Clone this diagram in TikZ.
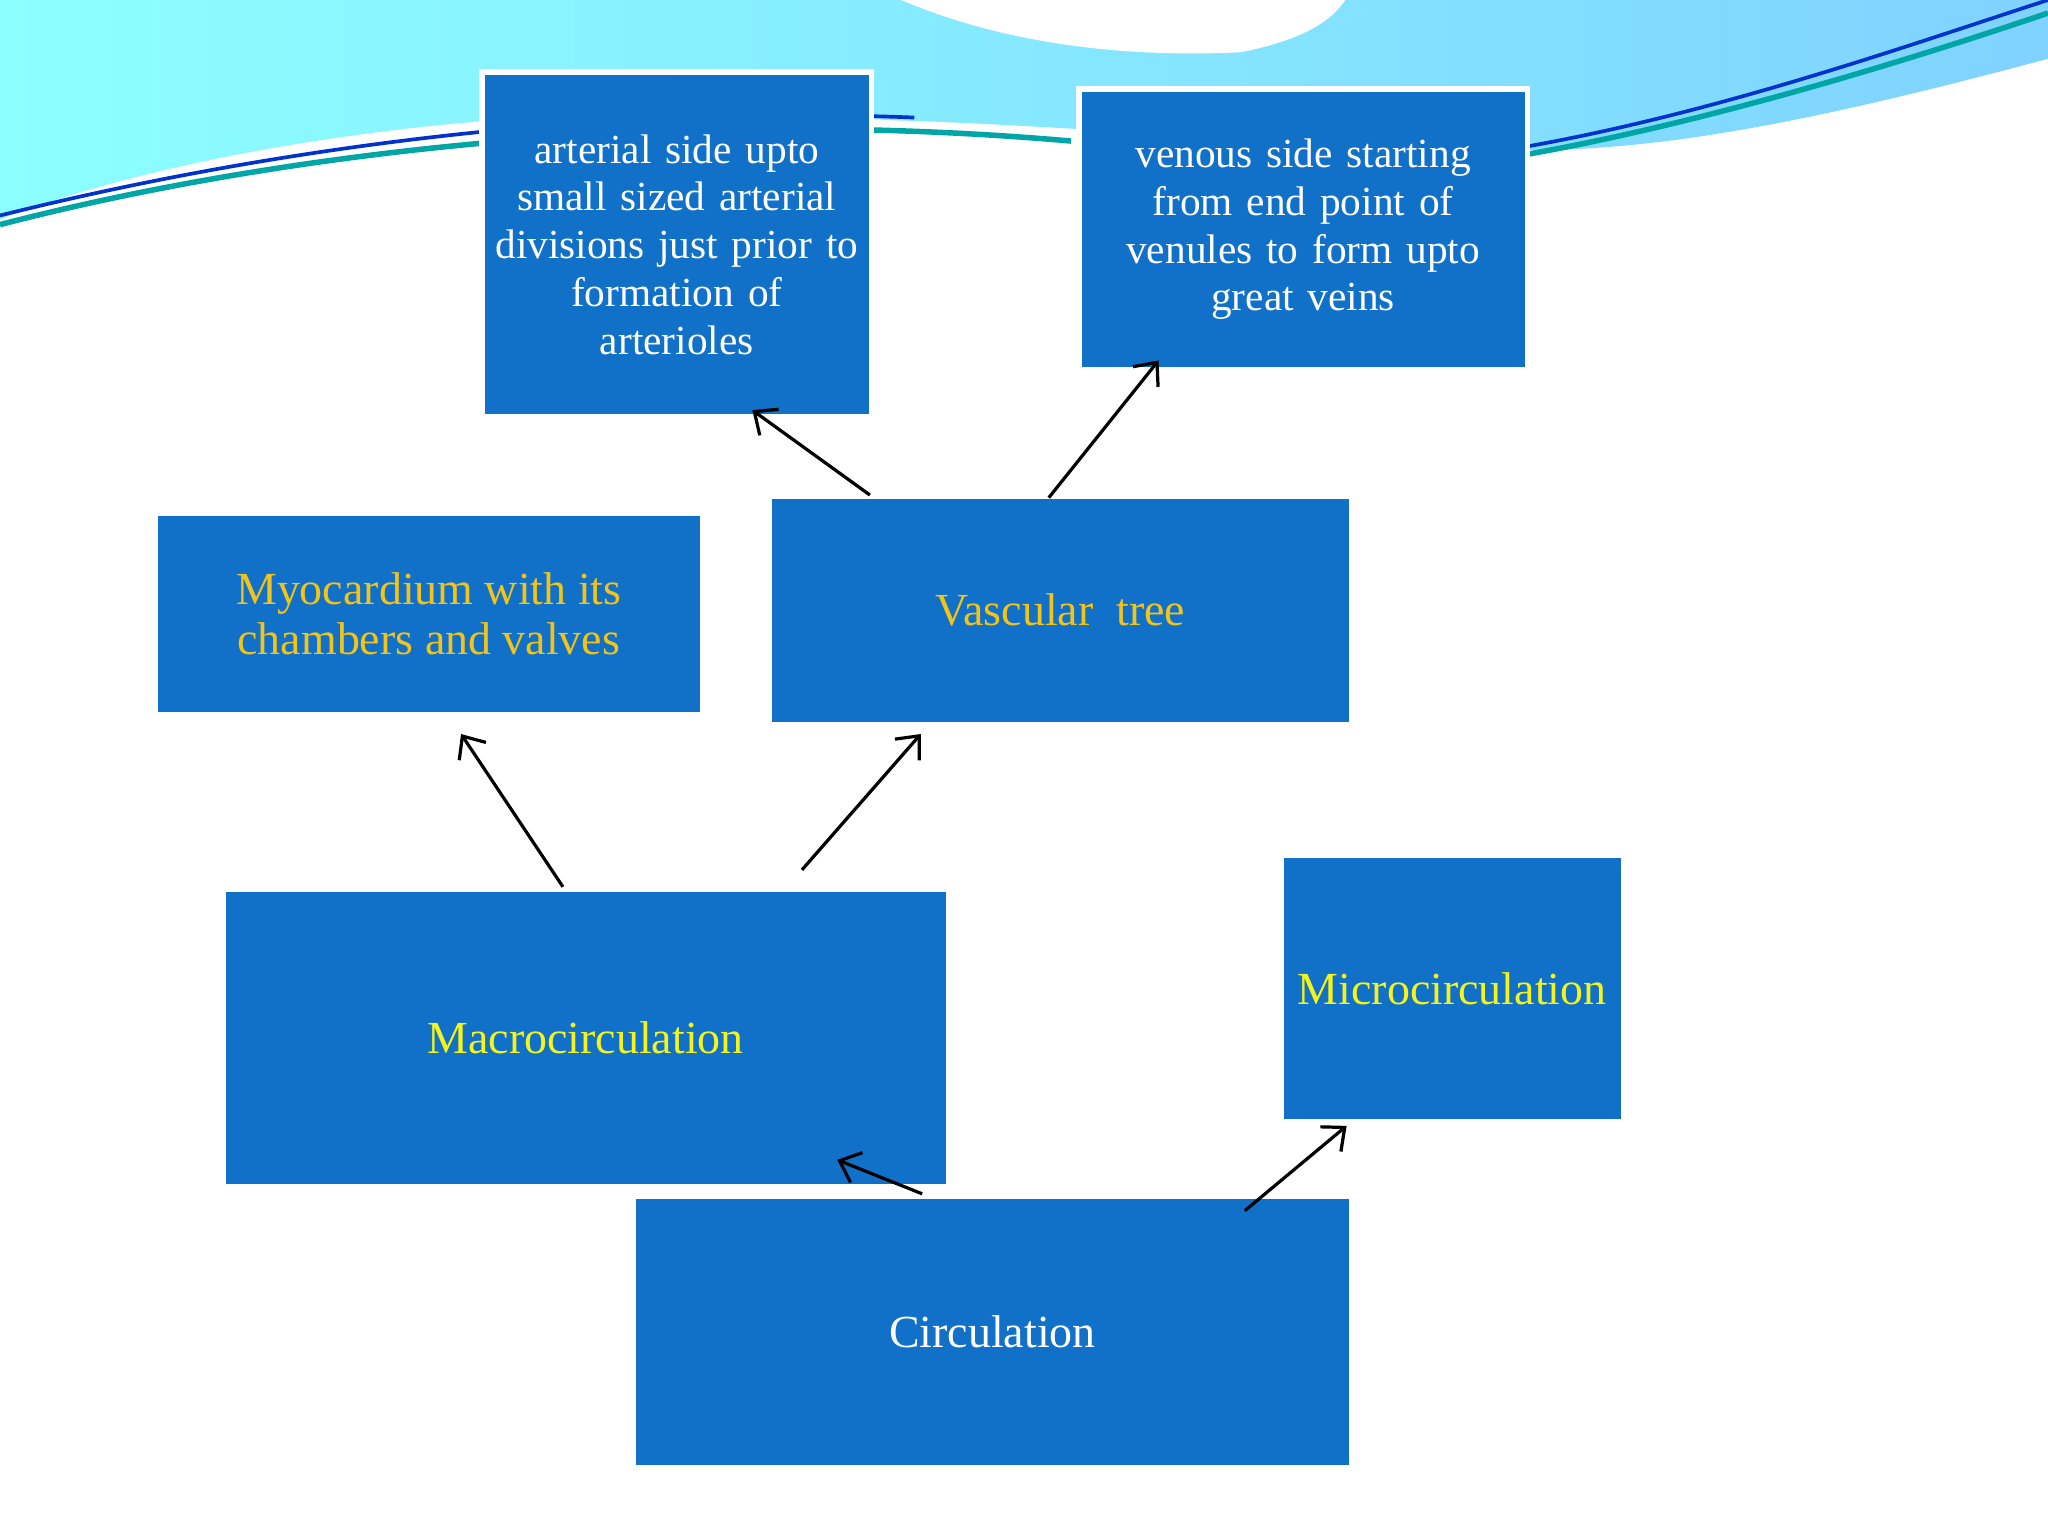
\documentclass[tikz,border=0pt]{standalone}
\usepackage{fontspec}
\setmainfont{Liberation Serif}
\usetikzlibrary{arrows.meta}
\definecolor{boxblue}{HTML}{1170C8}
\definecolor{gold}{HTML}{F2C318}
\definecolor{lemon}{HTML}{F4F41C}
\begin{document}
\begin{tikzpicture}[x=0.01cm,y=-0.01cm,
  box/.style={fill=boxblue,inner sep=0pt,align=center,anchor=north west},
  wbox/.style={box,draw=white,line width=1.2pt},
  arr/.style={-{Straight Barb[length=4pt,width=7pt]},line width=0.7pt}]
\useasboundingbox (0,0) rectangle (1568,1176);
\fill[white] (0,0) rectangle (1568,1176);
% background waves
\shade[left color=cyan!45!white,right color=blue!35!cyan!50!white]
  (0,0) -- (1568,0) -- (1568,45) .. controls (1400,90) and (1280,115) .. (1170,115)
  .. controls (1000,112) and (800,95) .. (680,92)
  .. controls (420,70) and (150,110) .. (0,168) -- cycle;
\fill[white] (690,0) .. controls (760,30) and (850,45) .. (950,40)
  .. controls (1000,30) and (1020,15) .. (1030,0) -- cycle;
\draw[teal!70!cyan,line width=1.2pt] (0,172) .. controls (200,120) and (500,80) .. (820,108);
\draw[blue!60!teal,line width=0.8pt] (0,165) .. controls (200,115) and (450,80) .. (700,90);
\draw[teal!70!cyan,line width=1.2pt] (1170,118) .. controls (1300,95) and (1450,50) .. (1568,10);
\draw[blue!60!teal,line width=0.8pt] (1170,112) .. controls (1320,85) and (1460,35) .. (1568,0);
% boxes
\node[wbox,minimum width=2.98cm,minimum height=2.64cm,text width=2.8cm,text=white,font=\fontsize{9}{10.4}\selectfont] (art) at (367,53) {arterial side upto\\small sized arterial\\divisions just prior to\\formation of\\arterioles};
\node[wbox,minimum width=3.43cm,minimum height=2.15cm,text width=3.2cm,text=white,font=\fontsize{9}{10.4}\selectfont] (ven) at (824,66) {venous side starting\\from end point of\\venules to form upto\\great veins};
\node[box,minimum width=4.15cm,minimum height=1.5cm,text=gold,font=\fontsize{10}{10.8}\selectfont] (myo) at (120,394) {Myocardium with its\\chambers and valves};
\node[box,minimum width=4.42cm,minimum height=1.71cm,text=gold,font=\fontsize{10}{12}\selectfont] (vas) at (590,381) {Vascular\ \ tree};
\node[box,minimum width=5.51cm,minimum height=2.24cm,text=lemon,font=\fontsize{10}{12}\selectfont] (mac) at (172,682) {Macrocirculation};
\node[box,minimum width=2.58cm,minimum height=2cm,text=lemon,font=\fontsize{10}{12}\selectfont] (mic) at (982,656) {Microcirculation};
\node[box,minimum width=5.46cm,minimum height=2.04cm,text=white,font=\fontsize{10}{12}\selectfont] (cir) at (486,917) {Circulation};
% connectors
\coordinate (a1) at (666,379); \coordinate (a2) at (576,314);
\coordinate (b1) at (803,381); \coordinate (b2) at (887,276);
\coordinate (c1) at (431,679); \coordinate (c2) at (353,562);
\coordinate (d1) at (614,666); \coordinate (d2) at (705,562);
\coordinate (e1) at (706,914); \coordinate (e2) at (641,888);
\coordinate (f1) at (953,927); \coordinate (f2) at (1031,862);
\draw[arr] (a1) -- (a2);
\draw[arr] (b1) -- (b2);
\draw[arr] (c1) -- (c2);
\draw[arr] (d1) -- (d2);
\draw[arr] (e1) -- (e2);
\draw[arr] (f1) -- (f2);
\end{tikzpicture}
\end{document}
